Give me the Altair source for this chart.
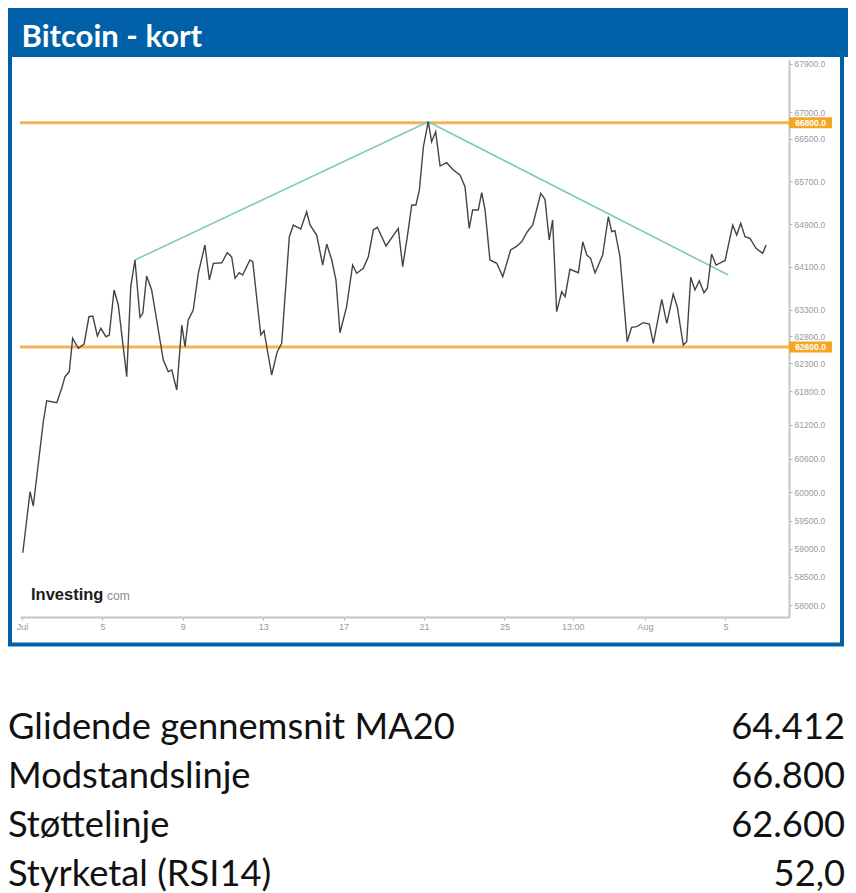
import altair as alt
import pandas as pd

# ---------------------------------------------------------------------------
# Data (day = day of July, Aug 1 = 32)
# ---------------------------------------------------------------------------
days = [1.04, 1.40, 1.56, 2.06, 2.23, 2.73, 2.98, 3.14, 3.35, 3.52,
        3.80, 4.09, 4.33, 4.52, 4.75, 4.92, 5.18, 5.34, 5.58, 5.79,
        6.21, 6.41, 6.62, 6.87, 7.01, 7.20, 7.45, 8.03, 8.28, 8.45,
        8.70, 8.95, 9.11, 9.27, 9.52, 9.77, 10.10, 10.32, 10.52, 10.94,
        11.21, 11.43, 11.60, 11.81, 11.98, 12.34, 12.48, 12.88, 13.04, 13.42,
        13.70, 13.92, 14.30, 14.50, 14.87, 15.16, 15.33, 15.66, 15.96, 16.16,
        16.41, 16.62, 16.82, 17.15, 17.45, 17.65, 17.98, 18.23, 18.48, 18.68,
        19.11, 19.72, 19.94, 20.17, 20.39, 20.60, 20.77, 20.97, 21.21, 21.38,
        21.58, 21.80, 22.13, 22.46, 22.79, 23.04, 23.25, 23.42, 23.70, 23.87,
        24.04, 24.28, 24.62, 24.92, 25.31, 25.58, 25.86, 26.14, 26.41, 26.81,
        27.02, 27.23, 27.40, 27.60, 27.85, 28.02, 28.26, 28.68, 28.90, 29.10,
        29.29, 29.51, 29.89, 30.17, 30.34, 30.50, 30.75, 31.11, 31.33, 31.58,
        31.91, 32.21, 32.41, 32.83, 33.08, 33.40, 33.60, 33.90, 34.07, 34.27,
        34.48, 34.70, 34.93, 35.10, 35.31, 35.53, 35.86, 35.98, 36.36, 36.56,
        36.76, 36.97, 37.22, 37.52, 37.85, 38.02]

prices = [58929, 60013, 59759, 61257, 61630, 61595, 61856, 62057, 62145, 62762,
          62575, 62656, 63167, 63180, 62806, 62950, 62792, 62824, 63667, 63386,
          62057, 63729, 64229, 63156, 63231, 63929, 63667, 62356, 62145, 62176,
          61820, 63012, 62605, 63105, 63292, 63980, 64510, 63854, 64167, 64178,
          64365, 64290, 63886, 63991, 63948, 64229, 64197, 62824, 62905, 62087,
          62512, 62669, 64665, 64884, 64809, 65133, 64884, 64697, 64135, 64528,
          64229, 63854, 62867, 63354, 64135, 63980, 64073, 64290, 64790, 64841,
          64491, 64822, 64103, 64665, 65259, 65259, 65539, 66350, 66818, 66444,
          66631, 65989, 66051, 65914, 65820, 65601, 64822, 65165, 65165, 65489,
          65165, 64229, 64167, 63916, 64416, 64478, 64571, 64759, 64884, 65478,
          65365, 64603, 64978, 63261, 63635, 63541, 64055, 63991, 64571, 64322,
          64260, 63985, 64322, 65039, 64759, 64777, 64290, 62699, 62968, 62980,
          63055, 63030, 62669, 63493, 63043, 63592, 63354, 62637, 62699, 63905,
          63667, 63841, 63616, 63699, 64341, 64135, 64197, 64216, 64884, 64697,
          64916, 64665, 64635, 64448, 64354, 64510]

# support / resistance
levels = [66800, 62600]
level_labels = ["66800.0", "62600.0"]

# trend lines (start, end)
trend_ids = ["up", "up", "down", "down"]
trend_days = [6.62, 21.21, 21.21, 36.14]
trend_prices = [64229, 66818, 66818, 63948]

# axis ticks
x_tick_days = [1, 5, 9, 13, 17, 21, 25, 28.4, 32, 36]
x_tick_labels = ["Jul", "5", "9", "13", "17", "21", "25", "13:00", "Aug", "5"]
y_ticks = [67900, 67000, 66500, 65700, 64900, 64100, 63300, 62800, 62300,
           61800, 61200, 60600, 60000, 59500, 59000, 58500, 58000]

# key figures below the chart
table_labels = ["Glidende gennemsnit MA20", "Modstandslinje", "Støttelinje", "Styrketal (RSI14)"]
table_values = ["64.412", "66.800", "62.600", "52,0"]

BLUE = "#0061a8"
ORANGE = "#f2b455"
TEAL = "#80cbb8"
AXIS_GREY = "#9a9a9a"

W, H = 769, 557

# ---------------------------------------------------------------------------
# Scales / encodings
# ---------------------------------------------------------------------------
label_expr = "{}[indexof({}, datum.value)]".format(
    str(x_tick_labels).replace('"', "'"), str(x_tick_days))

x_scale = alt.Scale(domain=[0.9, 39.16], nice=False, zero=False)
y_scale = alt.Scale(domain=[57787, 62300, 67974], range=[H, 303, 0], nice=False, zero=False)

x_axis = alt.Axis(values=x_tick_days, labelExpr=label_expr, grid=False, title=None,
                  domainColor="#c4c4c4", domainWidth=2, tickColor="#b0b0b0", tickSize=3,
                  labelColor=AXIS_GREY, labelFont="Liberation Sans", labelFontSize=9,
                  labelPadding=2)
y_axis = alt.Axis(orient="right", values=y_ticks, format=".1f", grid=False, title=None,
                  domainColor="#c4c4c4", domainWidth=2, tickColor="#b0b0b0", tickSize=3,
                  labelColor=AXIS_GREY, labelFont="Liberation Sans", labelFontSize=8.5,
                  labelPadding=2)


def xq(field):
    return alt.X(field, type="quantitative", scale=x_scale, axis=x_axis)


def yq(field):
    return alt.Y(field, type="quantitative", scale=y_scale, axis=y_axis)


one = pd.DataFrame({"k": [0]})
price_df = pd.DataFrame({"day": days, "price": prices})
level_df = pd.DataFrame({"level": levels, "label": level_labels})
trend_df = pd.DataFrame({"trend": trend_ids, "day": trend_days, "price": trend_prices})

# frame, header and logo
frame = alt.Chart(one).mark_rect(fillOpacity=0, stroke=BLUE, strokeWidth=4).encode(
    x=alt.value(-10), x2=alt.value(822), y=alt.value(-10), y2=alt.value(584.5))
header = alt.Chart(one).mark_rect(fill=BLUE).encode(
    x=alt.value(-12), x2=alt.value(828), y=alt.value(-52), y2=alt.value(-3))
header_text = alt.Chart(one).mark_text(
    text="Bitcoin - kort", font="Lato", fontWeight="bold", fontSize=31,
    color="white", align="left", baseline="alphabetic").encode(
    x=alt.value(1.5), y=alt.value(-13))
logo = alt.Chart(one).mark_text(
    text="Investing", font="Liberation Sans", fontWeight="bold", fontSize=16.5,
    color="#1a1a1a", align="left", baseline="alphabetic").encode(
    x=alt.value(11), y=alt.value(540))
logo_com = alt.Chart(one).mark_text(
    text="com", font="Liberation Sans", fontSize=12, color="#8a8a8a",
    align="left", baseline="alphabetic").encode(
    x=alt.value(87), y=alt.value(540))

# chart layers
level_lines = alt.Chart(level_df).mark_rule(color=ORANGE, strokeWidth=3).encode(y=yq("level"))
trend_lines = alt.Chart(trend_df).mark_line(color=TEAL, strokeWidth=1.6).encode(
    x=xq("day"), y=yq("price"), detail="trend:N")
price_line = alt.Chart(price_df).mark_line(color="#444444", strokeWidth=1.4).encode(
    x=xq("day"), y=yq("price"))
level_box = alt.Chart(level_df).mark_rule(color="#f5a623", strokeWidth=11).encode(
    x=alt.value(W), x2=alt.value(W + 43), y=yq("level"))
level_text = alt.Chart(level_df).mark_text(
    color="white", fontSize=8.5, fontWeight="bold", font="Liberation Sans",
    align="center", baseline="middle").encode(
    x=alt.value(W + 21.5), y=yq("level"), text="label:N")

top = alt.layer(frame, header, header_text, level_lines, trend_lines, price_line,
                logo, logo_com, level_box, level_text).properties(width=W, height=H)

# key figures table
table_df = pd.DataFrame({"row": range(len(table_labels)),
                         "label": table_labels, "value": table_values})
base = alt.Chart(table_df).encode(
    y=alt.Y("row:O", axis=None, scale=alt.Scale(paddingInner=0, paddingOuter=0)))
t_left = base.mark_text(align="left", baseline="middle", font="Lato", fontSize=36.3,
                        color="#111111").encode(x=alt.value(-12), text="label:N")
t_right = base.mark_text(align="right", baseline="middle", font="Lato", fontSize=36.3,
                         color="#111111").encode(x=alt.value(825), text="value:N")
table = alt.layer(t_left, t_right).properties(width=826, height=196)

chart = alt.vconcat(top, table, spacing=56).properties(
    padding=0
).configure_view(
    strokeWidth=0
)

chart.save("out.html", embed_options={"renderer": "svg", "actions": False})
